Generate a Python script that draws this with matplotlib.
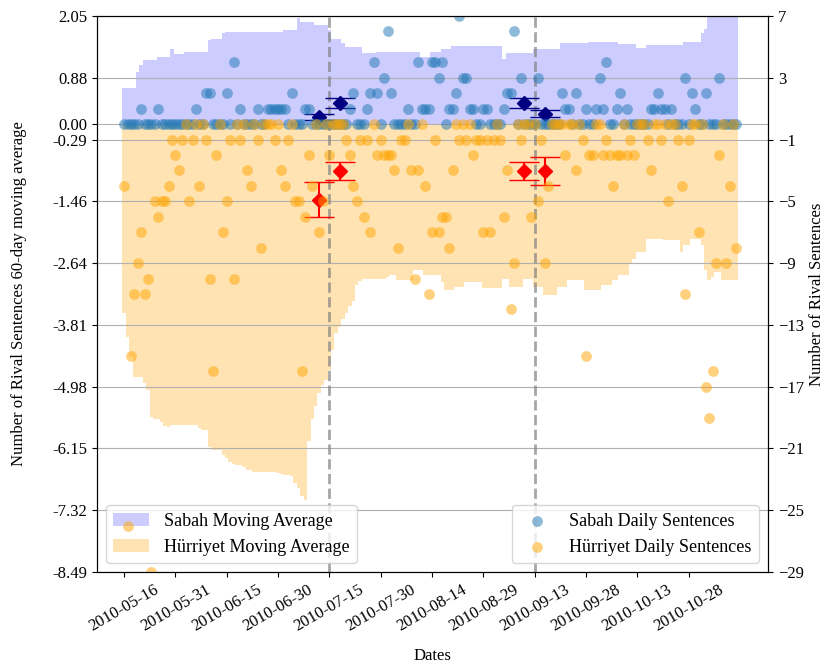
import numpy as np
import pandas as pd
import matplotlib
matplotlib.use("Agg")
import matplotlib.pyplot as plt
import matplotlib.dates as mdates

plt.rcParams['font.family'] = ['Liberation Serif', 'DejaVu Serif']

# daily dates of the window
dates = pd.date_range("2010-05-16", periods=180, freq="D")

# 60-day moving averages (left axis)
sabah_ma = [
    0.68, 0.68, 0.68, 0.68, 0.99, 1.12, 1.21, 1.21, 1.21, 1.21,
    1.28, 1.28, 1.28, 1.28, 1.43, 1.33, 1.33, 1.33, 1.37, 1.37,
    1.37, 1.37, 1.37, 1.37, 1.37, 1.59, 1.62, 1.62, 1.62, 1.72,
    1.75, 1.75, 1.75, 1.75, 1.75, 1.75, 1.75, 1.75, 1.75, 1.75,
    1.75, 1.75, 1.75, 1.75, 1.75, 1.75, 1.75, 1.78, 1.78, 1.78,
    1.78, 2.02, 1.94, 1.94, 1.94, 1.94, 1.88, 1.88, 1.88, 1.88,
    1.78, 1.62, 1.62, 1.62, 1.53, 1.47, 1.47, 1.47, 1.47, 1.47,
    1.34, 1.34, 1.34, 1.34, 1.36, 1.36, 1.36, 1.36, 1.36, 1.36,
    1.36, 1.36, 1.36, 1.36, 1.36, 1.36, 1.36, 1.28, 1.28, 1.28,
    1.37, 1.37, 1.37, 1.43, 1.43, 1.43, 1.48, 1.48, 1.48, 1.48,
    1.48, 1.48, 1.48, 1.48, 1.48, 1.48, 1.48, 1.48, 1.48, 1.48,
    1.48, 1.23, 1.34, 1.34, 1.34, 1.34, 1.34, 1.34, 1.34, 1.34,
    1.43, 1.43, 1.43, 1.43, 1.43, 1.43, 1.43, 1.43, 1.53, 1.53,
    1.53, 1.53, 1.53, 1.53, 1.53, 1.53, 1.56, 1.56, 1.56, 1.56,
    1.56, 1.56, 1.56, 1.56, 1.56, 1.52, 1.52, 1.52, 1.52, 1.52,
    1.44, 1.44, 1.44, 1.50, 1.50, 1.50, 1.50, 1.50, 1.50, 1.50,
    1.50, 1.50, 1.50, 1.50, 1.56, 1.56, 1.56, 1.56, 1.56, 1.72,
    1.81, 2.05, 2.05, 2.05, 2.05, 2.05, 2.05, 2.05, 2.05, 2.05,
]
hurriyet_ma = [
    -3.59, -4.03, -4.41, -4.79, -4.79, -4.79, -4.90, -5.04, -5.55, -5.60,
    -5.60, -5.64, -5.72, -5.75, -5.71, -5.71, -5.71, -5.71, -5.71, -5.71,
    -5.71, -5.71, -5.76, -5.80, -5.80, -6.12, -6.18, -6.18, -6.18, -6.28,
    -6.34, -6.40, -6.44, -6.46, -6.46, -6.50, -6.56, -6.56, -6.59, -6.59,
    -6.59, -6.59, -6.59, -6.59, -6.59, -6.62, -6.63, -6.65, -6.65, -6.68,
    -6.81, -6.90, -7.05, -7.13, -6.00, -5.60, -5.35, -5.10, -4.95, -4.85,
    -4.66, -4.28, -3.97, -3.85, -3.70, -3.59, -3.45, -3.35, -3.05, -2.98,
    -2.93, -2.93, -2.93, -2.93, -2.93, -2.93, -2.93, -2.90, -2.86, -2.86,
    -2.96, -2.96, -2.96, -2.96, -2.96, -2.77, -2.77, -2.77, -2.86, -2.86,
    -2.86, -2.86, -2.86, -3.00, -3.15, -3.15, -3.15, -3.08, -3.08, -3.08,
    -2.99, -2.99, -2.99, -2.99, -2.99, -3.11, -3.11, -3.11, -3.11, -3.11,
    -3.11, -2.93, -2.93, -3.08, -3.08, -3.08, -3.08, -2.93, -2.93, -2.93,
    -3.08, -3.08, -3.08, -3.24, -3.24, -3.24, -3.24, -3.08, -3.08, -3.08,
    -2.96, -2.96, -2.96, -2.96, -2.96, -3.15, -3.15, -3.15, -3.15, -3.15,
    -3.05, -3.05, -3.05, -2.96, -2.96, -2.86, -2.86, -2.86, -2.64, -2.55,
    -2.42, -2.42, -2.42, -2.17, -2.17, -2.17, -2.17, -2.17, -2.20, -2.20,
    -2.20, -2.20, -2.20, -2.42, -2.29, -2.29, -2.17, -2.17, -2.17, -2.29,
    -2.77, -2.96, -2.90, -2.80, -2.80, -2.96, -2.96, -2.96, -2.96, -2.96,
]

# daily sentence counts (right axis)
sabah_daily = [
    0, 0, 0, 0, 0, 1, 0, 0, 0, 0,
    1, 0, 0, 0, 0, 0, 0, 0, 0, 0,
    0, 1, 0, 0, 2, 2, 0, 0, 0, 0,
    2, 0, 4, 0, 1, 0, 0, 0, 0, 1,
    0, 0, 1, 1, 1, 1, 1, 1, 0, 2,
    0, 0, 0, 1, 1, 0, 0, 0, 0, 0,
    0, 0, 0, 0, 0, 0, 1, 2, 0, 0,
    0, 1, 2, 4, 2, 0, 3, 6, 2, 0,
    0, 0, 0, 1, 0, 0, 4, 1, 1, 1,
    4, 4, 3, 4, 0, 1, 1, 2, 7, 3,
    3, 1, 1, 0, 0, 1, 1, 0, 0, 0,
    0, 1, 2, 2, 6, 0, 3, 0, 0, 0,
    0, 3, 0, 0, 0, 0, 0, 0, 2, 1,
    1, 0, 2, 0, 0, 1, 0, 0, 1, 3,
    1, 4, 0, 0, 1, 2, 0, 1, 0, 0,
    0, 0, 0, 0, 1, 1, 2, 1, 1, 0,
    1, 0, 0, 0, 3, 0, 2, 1, 0, 0,
    2, 0, 0, 0, 3, 0, 0, 0, 0, 0,
]
hurriyet_daily = [
    -4, -26, -15, -11, -9, -7, -11, -10, -29, -5,
    -6, -5, -5, -4, -1, -2, -3, -1, 0, -5,
    -1, 0, -4, 0, -1, -10, -16, -2, 0, -7,
    -5, -1, -10, 0, -1, 0, -3, -4, 0, -1,
    -8, 0, 0, 0, -1, 0, -3, -4, -1, 0,
    -5, -5, -16, -6, -2, -4, 0, -7, -5, 0,
    -2, 0, 0, 0, 0, -1, -2, -4, -5, -1,
    -6, -1, -7, 0, -2, -1, -2, -2, -2, -3,
    -8, -1, -1, 0, -3, -10, -3, 0, -4, -11,
    -7, -1, -7, -6, -6, -8, -3, 0, -1, 0,
    -1, 0, -2, -1, -1, -7, -1, -7, -1, 0,
    -1, -6, -3, -12, -9, 0, -1, 0, 0, -6,
    0, -5, -1, -9, -4, 0, 0, 0, 0, -2,
    0, 0, -3, 0, -1, -15, -2, -2, 0, 0,
    -2, -1, -2, -4, -2, -2, 0, -2, -1, -2,
    0, 0, 0, -1, -3, 0, 0, -1, 0, -5,
    0, 0, -1, -4, -11, -1, 0, 0, -7, 0,
    -17, -19, -16, -9, -2, 0, -9, -4, 0, -8,
]

# events and before/after means (left axis units)
event_dates = ["2010-07-15", "2010-09-13"]
window_dates = ["2010-07-12", "2010-07-18", "2010-09-10", "2010-09-16"]
sabah_mean = [0.13, 0.40, 0.40, 0.20]
sabah_err = [0.06, 0.10, 0.10, 0.06]
hurriyet_mean = [-1.43, -0.89, -0.89, -0.89]
hurriyet_err = [0.34, 0.17, 0.17, 0.26]

right_ticks = list(range(-29, 8, 4))
scale = 2.05 / 7

fig, ax1 = plt.subplots(figsize=(8.28, 6.69), dpi=100)
fig.subplots_adjust(left=0.117, right=0.9275, bottom=0.145, top=0.976)
ax2 = ax1.twinx()

ax1.bar(dates, sabah_ma, width=1.0, color='blue', alpha=0.2, label='Sabah Moving Average')
ax1.bar(dates, hurriyet_ma, width=1.0, color='orange', alpha=0.3, label='Hürriyet Moving Average')

win = pd.to_datetime(window_dates)
ax1.errorbar(win, sabah_mean, yerr=sabah_err, fmt='D', color='navy', markersize=7,
             capsize=11, elinewidth=1.5, zorder=5)
ax1.errorbar(win, hurriyet_mean, yerr=hurriyet_err, fmt='D', color='red', markersize=7,
             capsize=11, elinewidth=1.5, zorder=5)

for d in event_dates:
    ax1.axvline(pd.Timestamp(d), color='gray', linestyle='--', linewidth=2, alpha=0.7)

ax2.scatter(dates, sabah_daily, s=60, color='tab:blue', alpha=0.5, linewidths=0,
            label='Sabah Daily Sentences')
ax2.scatter(dates, hurriyet_daily, s=60, color='orange', alpha=0.5, linewidths=0,
            label='Hürriyet Daily Sentences')

# axes limits and ticks
left_ticks = sorted([t * scale for t in right_ticks] + [0.0])
ax1.set_ylim(-29 * scale, 7 * scale)
ax1.set_yticks(left_ticks)
ax1.set_yticklabels([f"{t:.2f}" for t in left_ticks])
ax2.set_ylim(-29, 7)
ax2.set_yticks(right_ticks)

ax1.set_xlim(dates[0] - pd.Timedelta(hours=191), dates[0] + pd.Timedelta(hours=4517))
ax1.set_xticks(pd.date_range("2010-05-16", "2010-10-28", freq="15D"))
ax1.xaxis.set_major_formatter(mdates.DateFormatter('%Y-%m-%d'))
plt.setp(ax1.get_xticklabels(), rotation=30)

ax1.grid(True, axis='y')
ax1.tick_params(labelsize=12)
ax2.tick_params(labelsize=12)

ax1.set_xlabel("Dates", fontsize=12, labelpad=10)
ax1.set_ylabel("Number of Rival Sentences 60-day moving average", fontsize=12, labelpad=18)
ax2.set_ylabel("Number of Rival Sentences", fontsize=12)

ax1.legend(loc='lower left', fontsize=13)
ax2.legend(loc='lower right', fontsize=13)

fig.savefig("out.png", dpi=100)
